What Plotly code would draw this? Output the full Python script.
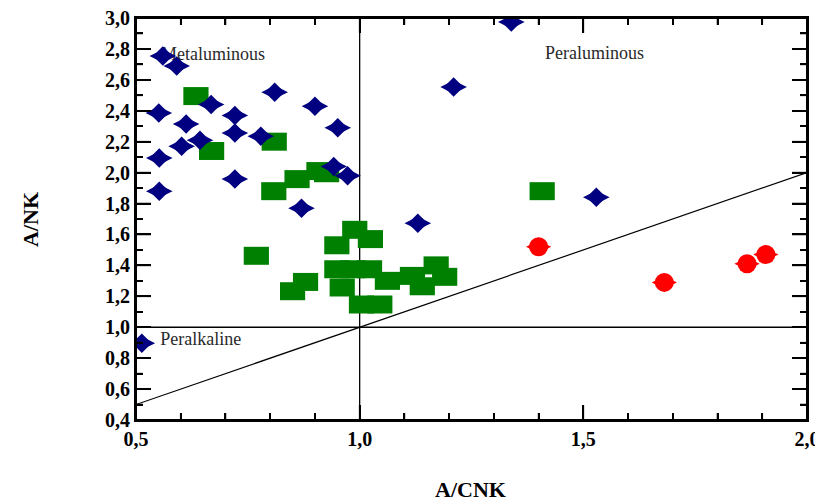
import plotly.graph_objects as go

# ---- data ----
blue_x = [0.560, 0.591, 0.551, 0.612, 0.668, 0.602, 0.643, 0.552, 0.552, 0.721, 0.721, 0.721,
          0.779, 0.810, 0.900, 0.951, 0.870, 0.942, 0.973, 1.339, 1.210, 1.529, 1.130, 0.513]
blue_y = [2.754, 2.690, 2.385, 2.314, 2.440, 2.170, 2.210, 2.094, 1.880, 2.370, 2.256, 1.958,
          2.236, 2.520, 2.430, 2.290, 1.770, 2.040, 1.980, 2.974, 2.553, 1.840, 1.673, 0.897]

green_x = [0.634, 0.669, 0.809, 0.808, 0.860, 0.909, 0.926, 1.408, 0.769, 0.850, 0.879,
           0.989, 1.024, 0.949, 0.949, 0.985, 1.022, 0.961, 1.004, 1.045, 1.062,
           1.171, 1.118, 1.190, 1.140]
green_y = [2.495, 2.140, 2.200, 1.880, 1.958, 2.010, 1.996, 1.880, 1.462, 1.233, 1.293,
           1.630, 1.570, 1.530, 1.375, 1.375, 1.375, 1.257, 1.147, 1.147, 1.300,
           1.400, 1.332, 1.326, 1.265]

red_x = [1.400, 1.681, 1.866, 1.908]
red_y = [1.520, 1.290, 1.410, 1.470]

field_labels = ["Metaluminous", "Peraluminous", "Peralkaline"]
field_x = [0.556, 1.525, 0.554]
field_y = [2.760, 2.767, 0.916]
field_pos = ["middle right", "middle center", "middle right"]

x_range = [0.5, 2.0]
y_range = [0.4, 3.0]
x_major, x_minor = 0.5, 0.1
y_major, y_minor = 0.2, 0.1
divider = 1.0

BLUE = "#000080"
GREEN = "#008000"
RED = "#FF0000"
SERIF = "Liberation Serif, Times New Roman, serif"

fig = go.Figure()

# field names (under the markers)
fig.add_trace(go.Scatter(
    x=field_x, y=field_y, text=field_labels, mode="text",
    textposition=field_pos, hoverinfo="skip",
    textfont=dict(family=SERIF, size=18, color="#2a2a2a"),
))

# reference lines
fig.add_trace(go.Scatter(x=[divider, divider], y=y_range, mode="lines",
                         line=dict(color="black", width=1.3), hoverinfo="skip"))
fig.add_trace(go.Scatter(x=x_range, y=[divider, divider], mode="lines",
                         line=dict(color="black", width=1.3), hoverinfo="skip"))
fig.add_trace(go.Scatter(x=x_range, y=x_range, mode="lines",
                         line=dict(color="black", width=1.2), hoverinfo="skip"))

# green rectangles (thick horizontal line marker -> 25x18 block)
fig.add_trace(go.Scatter(
    x=green_x, y=green_y, mode="markers",
    marker=dict(symbol="line-ew", size=18, color=GREEN,
                line=dict(color=GREEN, width=18)),
))

# blue diamonds (wide diamond + regular diamond)
fig.add_trace(go.Scatter(
    x=blue_x, y=blue_y, mode="markers",
    marker=dict(symbol="diamond-wide", size=19, color=BLUE, line=dict(width=0)),
))
fig.add_trace(go.Scatter(
    x=blue_x, y=blue_y, mode="markers",
    marker=dict(symbol="diamond", size=15, color=BLUE, line=dict(width=0)),
))

# red ellipses (circle + wide diamond)
fig.add_trace(go.Scatter(
    x=red_x, y=red_y, mode="markers",
    marker=dict(symbol="circle", size=19, color=RED, line=dict(width=0)),
))
fig.add_trace(go.Scatter(
    x=red_x, y=red_y, mode="markers",
    marker=dict(symbol="diamond-wide", size=18, color=RED, line=dict(width=0)),
))

tickfont = dict(family=SERIF, size=20, color="black", weight="bold")

fig.update_layout(
    xaxis=dict(range=x_range, tickmode="linear", tick0=x_range[0], dtick=x_major,
               tickformat=".1f", tickfont=tickfont, ticklabeloverflow="allow",
               ticks="inside", ticklen=15, tickwidth=1.6, tickcolor="black",
               showline=True, linecolor="black", linewidth=2, mirror="ticks",
               showgrid=False, zeroline=False, automargin=False,
               minor=dict(ticks="inside", ticklen=7, tickcolor="black",
                          dtick=x_minor, showgrid=False)),
    yaxis=dict(range=y_range, tickmode="linear", tick0=y_range[0], dtick=y_major,
               tickformat=".1f", tickfont=tickfont, ticklabeloverflow="allow",
               ticks="inside", ticklen=15, tickwidth=1.6, tickcolor="black",
               showline=True, linecolor="black", linewidth=2, mirror="ticks",
               showgrid=False, zeroline=False, automargin=False,
               minor=dict(ticks="inside", ticklen=7, tickcolor="black",
                          dtick=y_minor, showgrid=False)),
)

# frame and inward tick marks (fixed pixel length, anchored at axis values)
fig.add_shape(type="rect", xref="paper", yref="paper", x0=0, x1=1, y0=0, y1=1,
              line=dict(color="black", width=2), fillcolor="rgba(0,0,0,0)", layer="above")

tick_line = dict(color="black", width=1.6)
n_x = int(round((x_range[1] - x_range[0]) / x_minor))
for i in range(n_x + 1):
    v = round(x_range[0] + i * x_minor, 3)
    major = abs(v / x_major - round(v / x_major)) < 1e-6
    L = 15 if major else 7
    fig.add_shape(type="line", xref="x", yref="y", x0=v, x1=v,
                  ysizemode="pixel", yanchor=y_range[0], y0=0, y1=L, line=tick_line)
    fig.add_shape(type="line", xref="x", yref="y", x0=v, x1=v,
                  ysizemode="pixel", yanchor=y_range[1], y0=0, y1=-L, line=tick_line)

n_y = int(round((y_range[1] - y_range[0]) / y_minor))
for i in range(n_y + 1):
    v = round(y_range[0] + i * y_minor, 3)
    major = abs(v / y_major - round(v / y_major)) < 1e-6
    L = 15 if major else 7
    fig.add_shape(type="line", xref="x", yref="y", y0=v, y1=v,
                  xsizemode="pixel", xanchor=x_range[0], x0=0, x1=L, line=tick_line)
    fig.add_shape(type="line", xref="x", yref="y", y0=v, y1=v,
                  xsizemode="pixel", xanchor=x_range[1], x0=0, x1=-L, line=tick_line)

fig.add_annotation(text="A/CNK", xref="paper", yref="paper", x=0.498, y=-0.174,
                   xanchor="center", yanchor="middle", showarrow=False,
                   font=dict(family=SERIF, size=22, color="black", weight="bold"))
fig.add_annotation(text="A/NK", xref="paper", yref="paper", x=-0.158, y=0.5,
                   xanchor="center", yanchor="middle", textangle=-90, showarrow=False,
                   font=dict(family=SERIF, size=22, color="black", weight="bold"))

# the page body adds an 8px offset; compensate in size and margins
fig.update_layout(
    width=815, height=496, showlegend=False,
    margin=dict(l=128, r=16, t=10, b=84),
    plot_bgcolor="white", paper_bgcolor="white",
    separators=",.",
)

fig.write_html("out.html")
